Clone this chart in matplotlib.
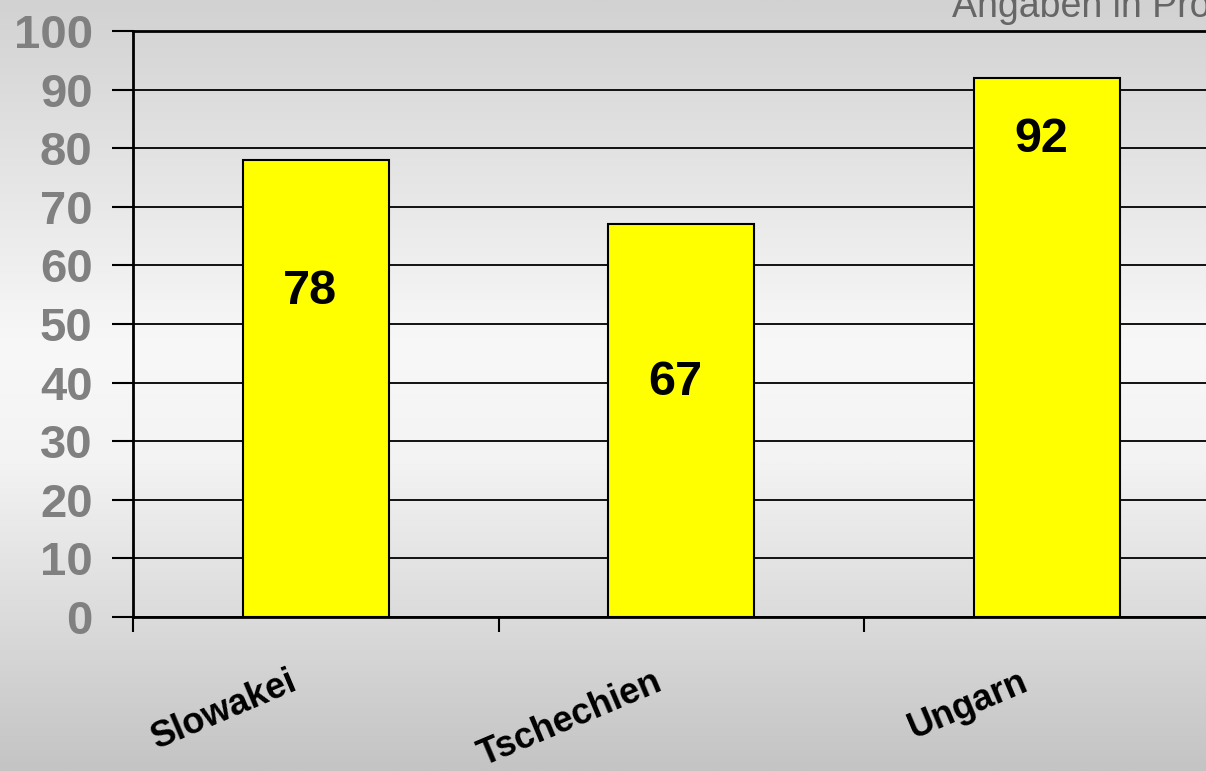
import numpy as np
import matplotlib
matplotlib.use("Agg")
import matplotlib.pyplot as plt
from matplotlib.colors import LinearSegmentedColormap
from matplotlib.transforms import ScaledTranslation

countries = ["Slowakei", "Tschechien", "Ungarn"]
values = [78, 67, 92]
label_y = [55.5, 40, 81.5]   # where the value labels sit inside the bars
y_ticks = list(range(0, 101, 10))
note = "Angaben in Prozent"

plt.rcParams['font.family'] = ['Liberation Sans', 'DejaVu Sans']

fig = plt.figure(figsize=(12.06, 7.71), dpi=100)

# background gradient: grey at top, nearly white in the middle, grey at bottom
bg = fig.add_axes([0, 0, 1, 1], zorder=-10)
cmap = LinearSegmentedColormap.from_list(
    "bg", [(0.0, "#d2d2d2"), (0.45, "#f8f8f8"), (0.6, "#f3f3f3"), (1.0, "#c4c4c4")])
grad = np.linspace(0, 1, 400).reshape(-1, 1)
bg.imshow(grad, aspect="auto", cmap=cmap, extent=[0, 1, 1, 0])
bg.set_axis_off()

# plot area is wider than the figure (right side cut off like the original)
ax = fig.add_axes([133 / 1206, 154 / 771, 1096.5 / 1206, 586 / 771])
ax.patch.set_alpha(0)

x = np.arange(len(countries))
ax.bar(x, values, width=0.4, color="#ffff00", edgecolor="black", linewidth=1.5, zorder=3)
for xi, v, ly in zip(x, values, label_y):
    ax.text(xi - 0.015, ly, str(v), ha="center", va="center", fontsize=35,
            fontweight="bold", color="black", zorder=4)

ax.set_xlim(-0.5, 2.5)
ax.set_ylim(0, 100)
ax.set_yticks(y_ticks)
ax.set_yticklabels([str(t) for t in y_ticks], fontsize=34, fontweight="bold", color="#808080")
ax.tick_params(axis="y", length=15, width=1.5, direction="out", pad=14)
ax.yaxis.grid(True, color="black", linewidth=1.3)
ax.set_axisbelow(True)

# category boundary ticks
ax.set_xticks([-0.5, 0.5, 1.5])
ax.set_xticklabels([])
ax.tick_params(axis="x", length=11, width=1.5, direction="out")

# rotated category names, right end of baseline anchored just left of centre
off = ScaledTranslation(-17 / 100, -72 / 100, fig.dpi_scale_trans)
for xi, name in zip(x, countries):
    ax.text(xi, 0, name, transform=ax.get_xaxis_transform() + off,
            rotation=23, rotation_mode="anchor", ha="right", va="baseline",
            fontsize=26, fontweight="bold", color="black", clip_on=False)

for s in ["left", "bottom", "top"]:
    ax.spines[s].set_linewidth(2)
ax.spines["right"].set_visible(False)

fig.text(952 / 1206, 1 - 17 / 771, note, fontsize=27, color="#666666",
         ha="left", va="baseline")

fig.savefig("out.png", dpi=100)
